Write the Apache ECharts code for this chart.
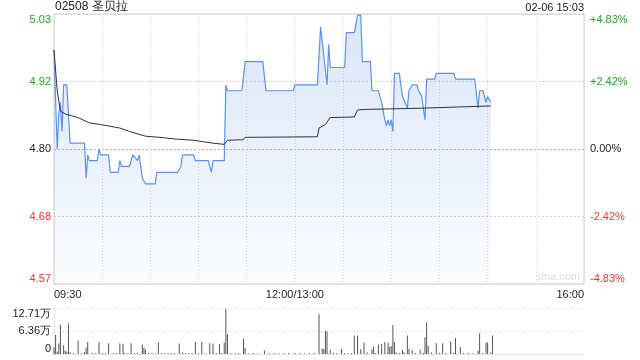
<!DOCTYPE html>
<html>
<head>
<meta charset="utf-8">
<script src="https://cdn.jsdelivr.net/npm/echarts@6/dist/echarts.min.js"></script>
<style>
html,body{margin:0;padding:0;background:#fff;}
#chart{width:640px;height:360px;}
</style>
</head>
<body>
<div id="chart"></div>
<script>
// ---- data ----
const titleText = '02508 圣贝拉';
const dateText = '02-06 15:03';
const prevClose = 4.80;
const pctLimit = 4.83;
const priceTickLabels = ['4.57', '4.68', '4.80', '4.92', '5.03'];
const pctTickLabels = ['-4.83%', '-2.42%', '0.00%', '+2.42%', '+4.83%'];
const timeTickMinutes = [0, 150, 330];
const timeTickLabels = ['09:30', '12:00/13:00', '16:00'];
const volMax = 12.71;
const volTickLabels = ['0', '6.36万', '12.71万'];

const priceMinutes = [0,2,3,4,5,6,8,10,19,20,21,22,27,28,29,34,35,40,41,42,47,49,50,52,53,55,57,63,64,77,79,80,87,88,96,98,99,106,107,108,117,119,130,132,149,150,164,166,170,171,172,181,182,187,189,191,192,197,198,202,204,206,207,208,209,210,211,212,215,217,218,220,221,223,226,227,229,231,232,237,238,249,250,262,264,265,267,269,270,271,272];
const prices = [4.97,4.80,4.86,4.88,4.83,4.91,4.91,4.81,4.81,4.75,4.79,4.78,4.78,4.80,4.79,4.79,4.76,4.76,4.78,4.77,4.77,4.79,4.79,4.78,4.79,4.75,4.74,4.74,4.76,4.76,4.77,4.79,4.79,4.78,4.78,4.76,4.78,4.78,4.91,4.90,4.90,4.95,4.95,4.90,4.90,4.91,4.91,5.01,4.91,4.98,4.94,4.94,5.00,5.00,5.03,5.03,4.95,4.95,4.90,4.90,4.88,4.85,4.84,4.85,4.84,4.85,4.83,4.93,4.93,4.89,4.89,4.87,4.90,4.91,4.91,4.90,4.89,4.85,4.92,4.92,4.93,4.93,4.92,4.92,4.87,4.90,4.90,4.88,4.89,4.89,4.88];

const avgMinutes = [0,2,4,7,14,18,22,29,41,47,57,66,76,87,99,106,108,118,119,164,165,169,172,187,189,194,228,272];
const avgPrices = [4.97,4.90,4.865,4.86,4.855,4.85,4.845,4.842,4.836,4.83,4.822,4.82,4.817,4.815,4.81,4.808,4.815,4.816,4.82,4.821,4.836,4.842,4.854,4.855,4.867,4.868,4.870,4.874];

const volMinutes = [0,1,2,3,4,6,7,8,9,10,12,15,17,19,20,21,24,26,28,30,32,34,37,39,41,43,44,46,48,50,52,55,56,57,59,61,63,65,67,69,71,73,75,78,80,82,84,86,88,90,92,94,97,99,101,103,104,106,107,108,110,113,115,118,119,121,124,127,131,134,137,140,143,146,150,153,156,159,162,165,167,168,169,170,172,174,176,179,181,183,185,187,189,191,193,195,198,199,200,202,204,206,208,209,210,211,212,213,215,217,218,220,221,223,225,228,230,231,232,233,235,238,240,242,244,247,249,250,253,255,258,261,264,265,267,269,270,272,273];
const volumes = [1.8,5.3,0.6,2.9,8.1,2.4,0.9,0.6,8.4,0.5,0.3,3.7,0.2,0.5,1.7,3.3,0.3,0.2,3.3,0.3,0.2,3.0,0.3,0.2,3.0,2.8,0.3,0.2,3.0,0.3,0.3,2.6,1.7,1.2,0.3,0.2,0.2,3.2,0.3,0.2,0.2,0.3,0.2,2.9,0.4,0.3,0.3,0.2,3.4,0.3,3.4,0.2,3.0,2.8,0.3,2.7,0.3,3.1,12.5,5.5,0.3,0.2,0.3,4.2,1.7,0.2,0.3,0.2,1.0,0.2,0.3,0.2,0.2,0.3,0.3,0.2,0.2,0.2,0.3,11.0,1.5,1.3,6.5,6.2,1.2,0.3,0.2,1.4,0.3,0.2,0.3,5.1,5.1,1.3,3.2,0.4,1.3,2.0,0.3,2.6,2.8,3.3,3.1,1.9,2.2,8.0,3.3,0.4,0.3,1.2,0.4,5.1,1.4,1.1,0.3,1.2,0.3,4.6,8.8,2.3,0.4,3.0,0.3,3.0,0.3,3.5,0.3,4.4,1.9,0.3,0.3,0.2,0.9,5.7,0.3,3.2,3.2,0.4,5.1];

// ---- build ----
const toPct = p => (p / prevClose - 1) * 100;
const priceData = priceMinutes.map((m, i) => [m, toPct(prices[i])]);
const avgData = avgMinutes.map((m, i) => [m, toPct(avgPrices[i])]);
const volData = volMinutes.map((m, i) => [m, volumes[i]]);

const GREEN = '#22a322';
const RED = '#ee3333';
const TXT = '#222';
const FONT = '"Liberation Sans", Arial, sans-serif';
const colorByIndex = (v, i) => (i < 2 ? RED : (i === 2 ? TXT : GREEN));

const chart = echarts.init(document.getElementById('chart'), null, {renderer: 'canvas'});
chart.setOption({
  animation: false,
  backgroundColor: '#fff',
  textStyle: {fontFamily: FONT},
  graphic: [
    {type: 'text', left: 55, top: 1, style: {text: titleText, font: '12px ' + FONT, fill: '#222'}},
    {type: 'text', right: 56, top: 2, style: {text: dateText, font: '11px ' + FONT, fill: '#222'}},
    {type: 'text', right: 60, top: 271, style: {text: 'sina.com', font: '11px ' + FONT, fill: '#dcdcdc'}}
  ],
  grid: [
    {left: 54, right: 56, top: 14, height: 270, show: true, borderColor: '#cfcfcf', borderWidth: 1, backgroundColor: 'transparent'},
    {left: 54, right: 56, top: 308, height: 46}
  ],
  xAxis: [
    {
      type: 'value', gridIndex: 0, min: 0, max: 330, interval: 30,
      axisLine: {show: false}, axisTick: {show: false},
      splitLine: {show: true, lineStyle: {color: '#d4d4d4', type: [1, 2], width: 1}},
      axisLabel: {
        show: true, margin: 5, fontSize: 11, color: TXT, fontFamily: FONT,
        showMinLabel: true, showMaxLabel: true,
        alignMinLabel: 'left', alignMaxLabel: 'right',
        formatter: v => { const k = timeTickMinutes.indexOf(Math.round(v)); return k >= 0 ? timeTickLabels[k] : ''; }
      }
    },
    {
      type: 'value', gridIndex: 1, min: 0, max: 330, interval: 30,
      axisLine: {show: true, lineStyle: {color: '#d4d4d4', type: [1, 2]}},
      axisTick: {show: false}, axisLabel: {show: false}, splitLine: {show: false}
    }
  ],
  yAxis: [
    {
      type: 'value', gridIndex: 0, min: -pctLimit, max: pctLimit, interval: pctLimit / 2,
      axisLine: {show: false}, axisTick: {show: false},
      splitLine: {show: true, lineStyle: {color: ['#d4d4d4', '#d4d4d4', '#b0b0b0', '#d4d4d4', '#d4d4d4'], type: [2, 2], width: 1}},
      axisLabel: {
        margin: 3, fontSize: 11, fontFamily: FONT,
        verticalAlignMinLabel: 'bottom', verticalAlignMaxLabel: 'top',
        formatter: (v, i) => priceTickLabels[i],
        color: colorByIndex
      }
    },
    {
      type: 'value', gridIndex: 0, position: 'right', min: -pctLimit, max: pctLimit, interval: pctLimit / 2,
      axisLine: {show: false}, axisTick: {show: false}, splitLine: {show: false},
      axisLabel: {
        margin: 6, fontSize: 11, fontFamily: FONT,
        verticalAlignMinLabel: 'bottom', verticalAlignMaxLabel: 'top',
        formatter: (v, i) => pctTickLabels[i],
        color: colorByIndex
      }
    },
    {
      type: 'value', gridIndex: 1, min: 0, max: volMax, interval: volMax / 2,
      axisLine: {show: true, lineStyle: {color: '#d4d4d4', type: [1, 2]}}, axisTick: {show: false},
      splitLine: {show: true, lineStyle: {color: '#d4d4d4', type: [1, 2]}},
      axisLabel: {
        margin: 3, fontSize: 11, color: TXT, fontFamily: FONT,
        verticalAlignMinLabel: 'bottom', verticalAlignMaxLabel: 'top',
        formatter: (v, i) => volTickLabels[i]
      }
    }
  ],
  series: [
    {
      type: 'line', xAxisIndex: 0, yAxisIndex: 0, data: priceData,
      showSymbol: false, symbol: 'none', smooth: false,
      lineStyle: {color: '#5b93ec', width: 1.2},
      areaStyle: {
        origin: 'start',
        color: new echarts.graphic.LinearGradient(0, 0, 0, 1, [
          {offset: 0, color: 'rgba(120,160,235,0.38)'},
          {offset: 1, color: 'rgba(120,160,235,0.05)'}
        ])
      },
      z: 3
    },
    {
      type: 'line', xAxisIndex: 0, yAxisIndex: 0, data: avgData,
      showSymbol: false, symbol: 'none', smooth: false,
      lineStyle: {color: '#333', width: 1}, z: 4
    },
    {
      type: 'bar', xAxisIndex: 1, yAxisIndex: 2, data: volData,
      barWidth: 1, itemStyle: {color: '#555'}
    }
  ]
});
</script>
</body>
</html>
